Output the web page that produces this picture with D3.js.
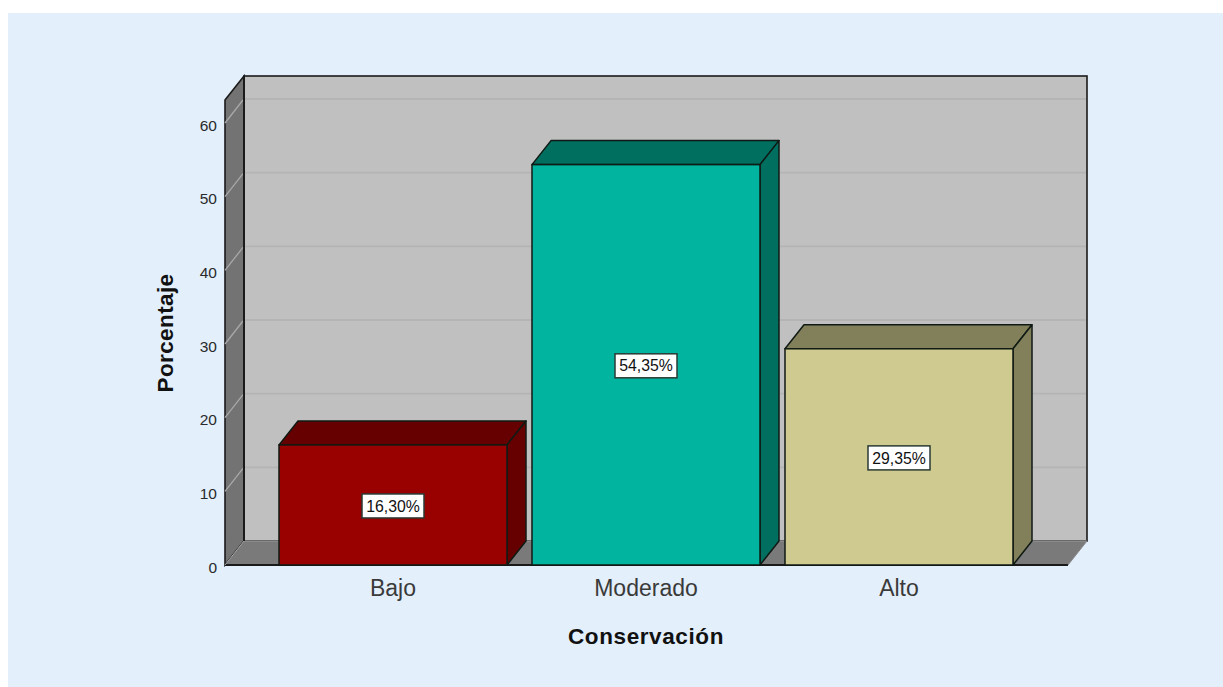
<!DOCTYPE html>
<html>
<head>
<meta charset="utf-8">
<script src="https://cdn.jsdelivr.net/npm/d3@7"></script>
<style>
html,body{margin:0;padding:0;background:#fff;}
svg{display:block;}
text{font-family:"Liberation Sans",Arial,sans-serif;}
</style>
</head>
<body>
<svg id="chart" width="1223" height="687"></svg>
<script>
// Bar chart with a pseudo-3D box frame
const categories = ["Bajo", "Moderado", "Alto"];
const percentages = [16.30, 54.35, 29.35];
const frontColors = ["#990000", "#00b49f", "#cfca90"];
const shadeColors = ["#660000", "#006f60", "#827f5b"];
const yTicks = [0, 10, 20, 30, 40, 50, 60];
const yAxisLabel = "Porcentaje";
const xAxisLabel = "Conservación";

const svg = d3.select("#chart");
const ink = "#1a1a1a";

// Depth of the box: the back plane sits right of and above the front plane
const depthX = 19, depthY = 24;

const plot = {left: 225, right: 1068, bottom: 565, top: 100};
const y = d3.scaleLinear().domain([0, 60]).range([plot.bottom, 123]);
const x = d3.scaleBand().domain(categories)
  .range([plot.left + 41.5, plot.right - 42.5])
  .paddingInner(0.0988).paddingOuter(0.0494);

const poly = pts => pts.map(p => p.join(",")).join(" ");

// Chart background panel
svg.append("rect").attr("x", 8).attr("y", 13).attr("width", 1215).attr("height", 674).attr("fill", "#e3effb");

// Back wall
svg.append("rect")
  .attr("x", plot.left + depthX).attr("y", plot.top - depthY)
  .attr("width", plot.right - plot.left).attr("height", plot.bottom - plot.top)
  .attr("fill", "#c0c0c0").attr("stroke", ink).attr("stroke-width", 1.6);

// Left side wall
svg.append("polygon")
  .attr("points", poly([
    [plot.left, plot.top], [plot.left + depthX, plot.top - depthY],
    [plot.left + depthX, plot.bottom - depthY], [plot.left, plot.bottom]]))
  .attr("fill", "#737373").attr("stroke", ink).attr("stroke-width", 1.6);

// Floor
svg.append("polygon")
  .attr("points", poly([
    [plot.left, plot.bottom], [plot.left + depthX, plot.bottom - depthY],
    [plot.right + depthX, plot.bottom - depthY], [plot.right, plot.bottom]]))
  .attr("fill", "#7a7a7a");
svg.append("line")
  .attr("x1", plot.left).attr("x2", plot.right)
  .attr("y1", plot.bottom).attr("y2", plot.bottom)
  .attr("stroke", ink).attr("stroke-width", 1.8);
svg.append("line")
  .attr("x1", plot.left + depthX).attr("x2", plot.right + depthX)
  .attr("y1", plot.bottom - depthY).attr("y2", plot.bottom - depthY)
  .attr("stroke", "#9a9a9a").attr("stroke-width", 1.2);
svg.append("line")
  .attr("x1", plot.left).attr("x2", plot.left + depthX)
  .attr("y1", plot.bottom).attr("y2", plot.bottom - depthY)
  .attr("stroke", "#a6a6a6").attr("stroke-width", 1);
svg.append("line")
  .attr("x1", plot.right).attr("x2", plot.right + depthX)
  .attr("y1", plot.bottom).attr("y2", plot.bottom - depthY)
  .attr("stroke", "#8a8a8a").attr("stroke-width", 1);

// Gridlines across the back wall and down the side wall
const gridTicks = yTicks.filter(t => t > 0);
svg.append("g").selectAll("line").data(gridTicks).join("line")
  .attr("x1", plot.left + depthX + 1).attr("x2", plot.right + depthX - 1)
  .attr("y1", d => y(d) - depthY).attr("y2", d => y(d) - depthY)
  .attr("stroke", "#b4b4b4").attr("stroke-width", 1.8);
svg.append("g").selectAll("line").data(gridTicks).join("line")
  .attr("x1", plot.left).attr("x2", plot.left + depthX - 1)
  .attr("y1", d => y(d)).attr("y2", d => y(d) - depthY + 1)
  .attr("stroke", "#a8a8a8").attr("stroke-width", 1.3);

// Re-stroke the wall junction above the gridlines
svg.append("line")
  .attr("x1", plot.left + depthX).attr("x2", plot.left + depthX)
  .attr("y1", plot.top - depthY).attr("y2", plot.bottom - depthY)
  .attr("stroke", ink).attr("stroke-width", 1.8);

// Y axis tick labels
svg.append("g").selectAll("text").data(yTicks).join("text")
  .attr("x", 217).attr("y", d => y(d) + 2).attr("dy", "0.36em")
  .attr("text-anchor", "end").attr("font-size", 15.5).attr("fill", "#2a2a2a")
  .text(d => d);

// Bars: front face, top face and right side face
const bars = svg.append("g").selectAll("g").data(categories).join("g");
const stroke = "#101a14";

bars.append("polygon")
  .attr("points", d => {
    const i = categories.indexOf(d), x0 = x(d), x1 = x0 + x.bandwidth(), t = y(percentages[i]);
    return poly([[x0, t], [x0 + depthX, t - depthY], [x1 + depthX, t - depthY], [x1, t]]);
  })
  .attr("fill", d => shadeColors[categories.indexOf(d)])
  .attr("stroke", stroke).attr("stroke-width", 1.5).attr("stroke-linejoin", "round");

bars.append("polygon")
  .attr("points", d => {
    const i = categories.indexOf(d), x1 = x(d) + x.bandwidth(), t = y(percentages[i]), b = y(0);
    return poly([[x1, t], [x1 + depthX, t - depthY], [x1 + depthX, b - depthY], [x1, b]]);
  })
  .attr("fill", d => shadeColors[categories.indexOf(d)])
  .attr("stroke", stroke).attr("stroke-width", 1.5).attr("stroke-linejoin", "round");

bars.append("rect")
  .attr("x", d => x(d))
  .attr("y", d => y(percentages[categories.indexOf(d)]))
  .attr("width", x.bandwidth())
  .attr("height", d => y(0) - y(percentages[categories.indexOf(d)]))
  .attr("fill", d => frontColors[categories.indexOf(d)])
  .attr("stroke", stroke).attr("stroke-width", 1.5);

// Value labels in white boxes at the middle of each front face
const fmt = v => v.toFixed(2).replace(".", ",") + "%";
const midY = d => (y(0) + y(percentages[categories.indexOf(d)])) / 2 + 1;
bars.append("rect")
  .attr("x", d => x(d) + x.bandwidth() / 2 - 31)
  .attr("y", d => midY(d) - 12)
  .attr("width", 62).attr("height", 24)
  .attr("fill", "#fff").attr("stroke", "#2a3a34").attr("stroke-width", 1.5);
bars.append("text")
  .attr("x", d => x(d) + x.bandwidth() / 2)
  .attr("y", midY)
  .attr("dy", "0.36em").attr("text-anchor", "middle")
  .attr("font-size", 15.8).attr("fill", "#111")
  .text(d => fmt(percentages[categories.indexOf(d)]));

// Category labels
svg.append("g").selectAll("text").data(categories).join("text")
  .attr("x", d => x(d) + x.bandwidth() / 2).attr("y", 596)
  .attr("text-anchor", "middle").attr("font-size", 23).attr("fill", "#3a3a3a")
  .text(d => d);

// Axis titles
svg.append("text")
  .attr("x", 646).attr("y", 644).attr("text-anchor", "middle")
  .attr("font-size", 22.5).attr("font-weight", "bold").attr("fill", "#111")
  .attr("letter-spacing", 0.6).text(xAxisLabel);
svg.append("text")
  .attr("transform", "translate(173,333) rotate(-90)").attr("text-anchor", "middle")
  .attr("font-size", 22.5).attr("font-weight", "bold").attr("fill", "#111")
  .attr("letter-spacing", 0.4).text(yAxisLabel);
</script>
</body>
</html>
